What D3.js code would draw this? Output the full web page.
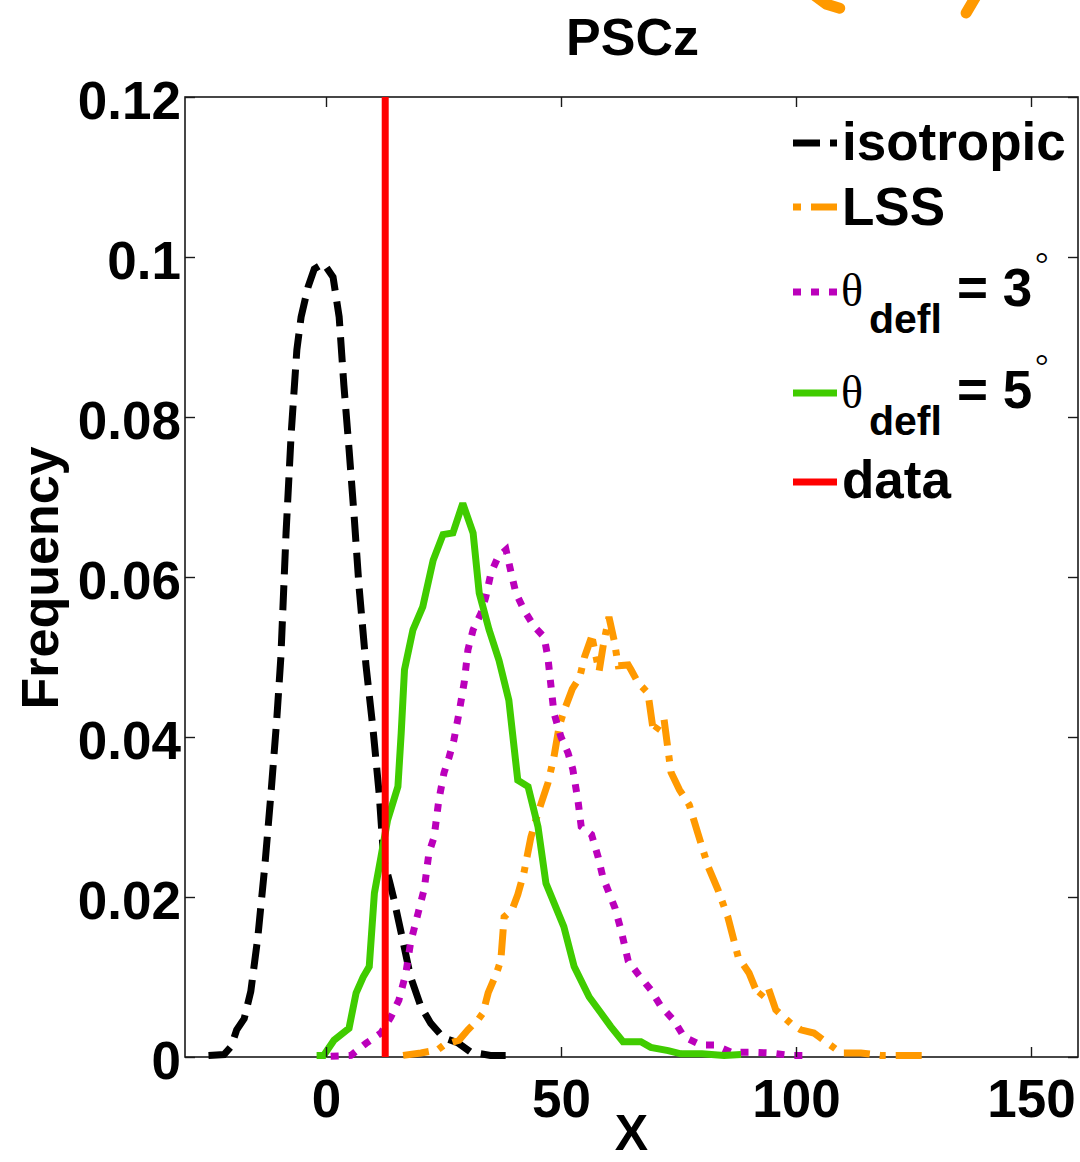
<!DOCTYPE html>
<html><head><meta charset="utf-8">
<script src="https://cdn.jsdelivr.net/npm/d3@7"></script>
<style>body{margin:0;background:#fff}svg{display:block}</style>
</head><body>
<svg id="c" width="1080" height="1162"></svg>
<script>
// ---------------- data ----------------
const chartTitle = "PSCz";
const xLabel = "X";
const yLabel = "Frequency";
const xTicks = [0, 50, 100, 150];
const yTicks = [0, 0.02, 0.04, 0.06, 0.08, 0.1, 0.12];
const yTickLabels = ["0", "0.02", "0.04", "0.06", "0.08", "0.1", "0.12"];

const isotropic = [[-25,0.0002],[-21.7,0.0003],[-20.2,0.0013],[-19,0.0034],[-17.4,0.0048],[-16,0.0082],
 [-14.5,0.015],[-13,0.024],[-11.7,0.033],[-10.5,0.042],[-9.6,0.05],[-8.5,0.0655],[-7.4,0.078],
 [-6.2,0.0884],[-5.3,0.0925],[-3.8,0.0963],[-2.5,0.0985],[-0.5,0.0992],[1.5,0.0975],[2.8,0.0925],
 [3.8,0.084],[4.9,0.076],[6,0.0675],[7,0.059],[8.5,0.049],[10,0.041],[11.3,0.033],[12.3,0.0246],
 [13.5,0.022],[14.5,0.0196],[16,0.0155],[18,0.01],[20.2,0.0063],[22.3,0.0042],[25,0.0024],
 [28,0.0018],[30.8,0.0006],[35,0.0002],[38.5,0.0002]];

const lss = [[16.4,0.0002],[20.2,0.0005],[23.8,0.0009],[25.1,0.0015],[28.3,0.0021],[30.2,0.0034],
 [32.4,0.0047],[33.4,0.0055],[34.5,0.008],[36.3,0.0105],[37.2,0.0121],[37.9,0.0175],[39.6,0.0184],
 [40.8,0.0203],[42.1,0.023],[43.6,0.0275],[45.1,0.0305],[47.2,0.0342],[48.5,0.0375],[49.6,0.0413],
 [50.6,0.0432],[52.4,0.046],[54,0.0475],[55,0.05],[56.2,0.052],[56.8,0.0519],[58.1,0.0482],
 [59,0.0515],[60.2,0.055],[61.3,0.0521],[62.2,0.0489],[64.3,0.049],[64.9,0.0484],[66.4,0.0468],
 [68.5,0.0455],[69.7,0.0405],[71.9,0.0423],[73.4,0.0356],[75.2,0.0334],[77.3,0.0315],[79.1,0.028],
 [81.3,0.0238],[83.4,0.0209],[85.5,0.0175],[87.7,0.0125],[90,0.0105],[92.1,0.0075],[94,0.0088],
 [95.7,0.0059],[98.9,0.0042],[101,0.0034],[103.8,0.003],[106.8,0.0017],[109.6,0.0005],[113.8,0.0005],
 [118,0.0002],[127.2,0.0002]];

const defl3 = [[1,0.0001],[5.3,0.0002],[8.5,0.0017],[11.7,0.003],[13.8,0.005],[15.5,0.0071],[17,0.0105],
 [18,0.0143],[19.6,0.018],[20.9,0.021],[21.9,0.0255],[23,0.0275],[24,0.0321],[25.1,0.0355],[26.2,0.0375],
 [27.2,0.0396],[28.3,0.043],[29.4,0.0468],[30.2,0.0509],[31.3,0.0534],[33,0.0555],[34,0.0575],
 [35.1,0.0605],[36.6,0.0625],[38.3,0.0634],[39.4,0.0605],[40.4,0.058],[42.1,0.0559],[44.3,0.0538],
 [46.4,0.0525],[47.2,0.05],[47.9,0.0462],[48.5,0.043],[50,0.04],[51.5,0.038],[52.5,0.036],[53.6,0.0321],
 [54.3,0.0288],[56.5,0.0278],[57.9,0.025],[58.9,0.0225],[60.1,0.0207],[61.5,0.0186],[62.8,0.0158],
 [64.3,0.012],[66.6,0.0102],[69.1,0.0084],[71.3,0.0063],[74,0.0046],[76.2,0.0025],[79.8,0.0015],
 [82.6,0.0015],[86.2,0.0006],[90.4,0.0006],[94.7,0.0005],[98.9,0.0002],[102,0.0002]];

const defl5 = [[-2,0.0002],[-0.5,0.0002],[1.7,0.0021],[4.9,0.0036],[6.4,0.008],[7.9,0.01],[9.2,0.0113],
 [10.3,0.0205],[11.7,0.025],[13.1,0.0296],[15.3,0.0338],[16,0.0405],[16.7,0.0484],[18.5,0.0534],
 [20.6,0.0563],[22.8,0.0621],[24.9,0.0653],[27,0.0655],[29.1,0.0692],[31.3,0.0655],[32.6,0.058],
 [34.7,0.0534],[36.8,0.0496],[38.9,0.0446],[40.8,0.0346],[43,0.0338],[45.1,0.0288],[46.8,0.0217],
 [50.6,0.0163],[52.8,0.0113],[56,0.0075],[58.5,0.0055],[60.6,0.0038],[63.2,0.0019],[67,0.0019],
 [69.1,0.0012],[72.8,0.0008],[75.5,0.0004],[80,0.0004],[84.7,0.0002],[88.3,0.0003]];

const dataValue = 12.6;

// stray orange strokes above the title (part of something outside this panel)
const lssStray = [[[103,0.1331],[106.5,0.1316],[109.3,0.1311]], [[138.9,0.1332],[136.2,0.1305]]];

const legendLabels = ["isotropic", "LSS", "3", "5", "data"];

// ---------------- drawing ----------------
const svg = d3.select("#c");
const m = {l:185, r:1078, t:97, b:1057};
const x = d3.scaleLinear().domain([-30,160]).range([m.l, m.r]);
const y = d3.scaleLinear().domain([0,0.12]).range([m.b, m.t]);
const FONT = "'Liberation Sans', Arial, Helvetica, sans-serif";
const SERIF = "'Liberation Serif', 'Times New Roman', serif";

const line = d3.line().x(d => x(d[0])).y(d => y(d[1]));

const series = [
  {name:"isotropic", data:isotropic, color:"#000000", dash:"25,11"},
  {name:"LSS", data:lss, color:"#ff9900", dash:"26,10,6,10"},
  {name:"d3", data:defl3, color:"#bb00bb", dash:"8,10"},
  {name:"d5", data:defl5, color:"#40cc00", dash:null}
];

// axes box
svg.append("rect").attr("x", m.l).attr("y", m.t)
  .attr("width", m.r - m.l).attr("height", m.b - m.t)
  .attr("fill", "none").attr("stroke", "#1a1a1a").attr("stroke-width", 1.6);

const gPlot = svg.append("g");
series.forEach(s => {
  gPlot.append("path").datum(s.data)
    .attr("d", line).attr("fill", "none")
    .attr("stroke", s.color).attr("stroke-width", 7)
    .attr("stroke-linejoin", "miter").attr("stroke-miterlimit", 3)
    .attr("stroke-dasharray", s.dash);
});
gPlot.append("line")
  .attr("x1", x(dataValue)).attr("x2", x(dataValue))
  .attr("y1", y(0)).attr("y2", y(0.12))
  .attr("stroke", "#ff0000").attr("stroke-width", 7);

// stray strokes
lssStray.forEach(seg => {
  svg.append("path").datum(seg).attr("d", line).attr("fill", "none")
    .attr("stroke", "#ff9900").attr("stroke-width", 11)
    .attr("stroke-linecap", "round").attr("stroke-linejoin", "round");
});

// axes
const axB = d3.axisBottom(x).tickValues(xTicks).tickSizeInner(-10).tickSizeOuter(0).tickPadding(22).tickFormat(d3.format("d"));
const axT = d3.axisTop(x).tickValues(xTicks).tickSizeInner(-10).tickSizeOuter(0).tickFormat("");
const axL = d3.axisLeft(y).tickValues(yTicks).tickSizeInner(-10).tickSizeOuter(0).tickPadding(4)
  .tickFormat((d,i) => yTickLabels[i]);
const axR = d3.axisRight(y).tickValues(yTicks).tickSizeInner(-10).tickSizeOuter(0).tickFormat("");

function styleAxis(g){
  g.select(".domain").remove();
  g.selectAll(".tick line").attr("stroke", "#1a1a1a").attr("stroke-width", 1.4);
  g.selectAll("text").attr("fill", "#000").style("font-family", FONT)
    .style("font-weight", "bold").style("font-size", "53px");
}
svg.append("g").attr("transform", `translate(0,${m.b})`).call(axB).call(styleAxis);
svg.append("g").attr("transform", `translate(0,${m.t})`).call(axT).call(styleAxis);
const gL = svg.append("g").attr("transform", `translate(${m.l},0)`).call(axL).call(styleAxis);
gL.selectAll("text").attr("dy", "0.40em");
svg.append("g").attr("transform", `translate(${m.r},0)`).call(axR).call(styleAxis);

// titles
svg.append("text").attr("x", (m.l + m.r)/2 + 1).attr("y", 55).attr("text-anchor", "middle")
  .style("font-family", FONT).style("font-weight", "bold").style("font-size", "52px").text(chartTitle);
svg.append("text").attr("x", (m.l + m.r)/2).attr("y", 1150).attr("text-anchor", "middle")
  .style("font-family", FONT).style("font-weight", "bold").style("font-size", "50px").text(xLabel);
svg.append("text").attr("transform", "translate(58,578) rotate(-90)").attr("text-anchor", "middle")
  .style("font-family", FONT).style("font-weight", "bold").style("font-size", "52px").text(yLabel);

// legend
const lg = svg.append("g");
const legRows = [
  {label:legendLabels[0], color:"#000000", dash:"27,10,7,200", ly:143, ty:160},
  {label:legendLabels[1], color:"#ff9900", dash:"8,10,26,200", ly:207, ty:225},
  {label:legendLabels[2], color:"#bb00bb", dash:"8,10", ly:292, ty:306, theta:true},
  {label:legendLabels[3], color:"#40cc00", dash:null, ly:393, ty:408, theta:true},
  {label:legendLabels[4], color:"#ff0000", dash:null, ly:482, ty:498}
];
legRows.forEach(r => {
  lg.append("line").attr("x1", 793).attr("x2", 837).attr("y1", r.ly).attr("y2", r.ly)
    .attr("stroke", r.color).attr("stroke-width", 7).attr("stroke-dasharray", r.dash);
  if (!r.theta) {
    lg.append("text").attr("x", 842).attr("y", r.ty)
      .style("font-family", FONT).style("font-weight", "bold").style("font-size", "53px").text(r.label);
  } else {
    lg.append("text").attr("x", 841).attr("y", r.ty)
      .style("font-family", SERIF).style("font-size", "46px").text("θ");
    lg.append("text").attr("x", 869).attr("y", r.ty + 27)
      .style("font-family", FONT).style("font-weight", "bold").style("font-size", "41px").text("defl");
    lg.append("text").attr("x", 957).attr("y", r.ty)
      .style("font-family", FONT).style("font-weight", "bold").style("font-size", "53px").text("= " + r.label);
    lg.append("text").attr("x", 1035).attr("y", r.ty - 31)
      .style("font-family", SERIF).style("font-size", "34px").text("°");
  }
});
</script>
</body></html>
